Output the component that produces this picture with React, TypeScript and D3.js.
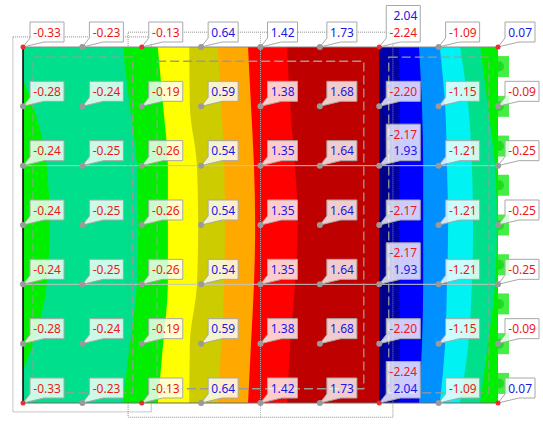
import React from "react";
import * as d3 from "d3";

const W = 543;
const H = 425;

// node grid: 9 columns x 7 rows
const columns = [0, 1, 2, 3, 4, 5, 6, 7, 8];
const rows = [0, 1, 2, 3, 4, 5, 6];

// values at nodes (row by row, top to bottom)
const row0 = [-0.33, -0.23, -0.13, 0.64, 1.42, 1.73, -2.24, -1.09, 0.07];
const row1 = [-0.28, -0.24, -0.19, 0.59, 1.38, 1.68, -2.2, -1.15, -0.09];
const row2 = [-0.24, -0.25, -0.26, 0.54, 1.35, 1.64, -2.17, -1.21, -0.25];
const row3 = [-0.24, -0.25, -0.26, 0.54, 1.35, 1.64, -2.17, -1.21, -0.25];
const row4 = [-0.24, -0.25, -0.26, 0.54, 1.35, 1.64, -2.17, -1.21, -0.25];
const row5 = [-0.28, -0.24, -0.19, 0.59, 1.38, 1.68, -2.2, -1.15, -0.09];
const row6 = [-0.33, -0.23, -0.13, 0.64, 1.42, 1.73, -2.24, -1.09, 0.07];
const nodeValues = [row0, row1, row2, row3, row4, row5, row6];

// second value at the discontinuity column
const jumpColumn = 6;
const jumpValues: (number | null)[] = [2.04, null, 1.93, null, 1.93, null, 2.04];
const jumpFirst = [true, false, false, false, false, false, false];

// nodes drawn with red markers
const markedRows = [0, 6];
const markedCols = [0, 2, 6, 8];

// contour band edges (in column units) per node row, left to right
const edgeLens = [-0.25, 0.17, 0.4, 0.45, 0.4, 0.17, -0.25];
const edgeTealGreen = [1.68, 1.8, 1.92, 1.94, 1.92, 1.8, 1.68];
const edgeGreenYellow = [2.27, 2.36, 2.44, 2.44, 2.44, 2.36, 2.27];
const edgeYellowOlive = [2.8, 2.81, 2.93, 2.95, 2.93, 2.81, 2.8];
const edgeOliveOrange = [3.28, 3.34, 3.39, 3.4, 3.39, 3.34, 3.28];
const edgeOrangeRed = [3.79, 3.84, 3.89, 3.91, 3.89, 3.84, 3.79];
const edgeRedDark = [4.45, 4.5, 4.58, 4.63, 4.58, 4.5, 4.45];
const edgeJump = [6, 6, 6, 6, 6, 6, 6];
const edgeNavy = [6.01, 6.08, 6.15, 6.15, 6.15, 6.08, 6.01];
const edgeNavyBlue = [6.33, 6.35, 6.34, 6.34, 6.34, 6.35, 6.33];
const edgeBlueLight = [6.67, 6.72, 6.74, 6.74, 6.74, 6.72, 6.67];
const edgeLightCyan = [7.02, 7.11, 7.14, 7.16, 7.14, 7.11, 7.02];
const edgeCyanTeal = [7.36, 7.5, 7.56, 7.58, 7.56, 7.5, 7.36];
const edgeTealGreenR = [7.7, 7.83, 7.95, 7.98, 7.95, 7.83, 7.7];
const bandEdges = [
  edgeLens, edgeTealGreen, edgeGreenYellow, edgeYellowOlive, edgeOliveOrange,
  edgeOrangeRed, edgeRedDark, edgeJump, edgeNavy, edgeNavyBlue, edgeBlueLight,
  edgeLightCyan, edgeCyanTeal, edgeTealGreenR,
];
const bandColors = [
  "#00EE00", "#00E08C", "#00EE00", "#FFFF00", "#CCCC00", "#FFA800", "#FF0000",
  "#BE0000", "#000088", "#0000A8", "#0000FF", "#0090FF", "#00F2F2", "#00E08C", "#00EE00",
];

// support blocks along the right edge (row units)
const supportRows = [0.33, 1, 1.67, 2.33, 3, 3.67, 4.33, 5, 5.67];

// frames (column / row units)
const dashedFrames = [
  { c0: 0.17, c1: 1.85, r0: 0.17, r1: 5.83 },
  { c0: 2.26, c1: 5.74, r0: 0.24, r1: 5.76 },
  { c0: 6.16, c1: 7.85, r0: 0.17, r1: 5.83 },
];
const dottedFrames = [
  { c0: -0.17, c1: 2.16, r0: -0.17, r1: 6.15 },
  { c0: 1.77, c1: 6.23, r0: -0.25, r1: 6.24 },
];
const dividerColumn = 4;
const meshRows = [2, 4];

const x = d3.scaleLinear().domain([0, 8]).range([23, 498]);
const y = d3.scaleLinear().domain([0, 6]).range([47, 403]);

const FONT = 12;
const LINE_GAP = 16.5;
function textWidth(s: string) {
  let w = 0;
  for (const ch of s) {
    if (ch === ".") w += 0.266;
    else if (ch === "-") w += 0.322;
    else w += 0.572;
  }
  return w * FONT;
}
const fmt = (v: number) => v.toFixed(2);

export default function App() {
  const line = d3
    .line<[number, number]>()
    .x((d) => d[0])
    .y((d) => d[1])
    .curve(d3.curveMonotoneY);

  const bands = bandColors.map((color, i) => {
    const leftEdge = i === 0 ? rows.map(() => -1) : bandEdges[i - 1];
    const left: [number, number][] = rows.map((r) => [x(leftEdge[r]), y(r)]);
    const right: [number, number][] = rows.map((r) => [x(9), y(r)]).reverse() as [number, number][];
    const d = (line(left) as string) + "L" + (line(right) as string).substring(1) + "Z";
    return { color, d };
  });

  const labels: { px: number; py: number; vals: number[] }[] = [];
  rows.forEach((r) => {
    columns.forEach((c) => {
      const v = nodeValues[r][c];
      let vals = [v];
      const jv = c === jumpColumn ? jumpValues[r] : null;
      if (jv !== null && jv !== undefined) vals = jumpFirst[r] ? [jv, v] : [v, jv];
      labels.push({ px: x(c), py: y(r), vals });
    });
  });

  return (
    <div style={{ position: "fixed", left: 0, top: 0, width: W, height: H, background: "#fff" }}>
      <svg width={W} height={H} style={{ display: "block" }}>
        <defs>
          <clipPath id="plate">
            <rect x={x(0)} y={y(0)} width={x(8) - x(0)} height={y(6) - y(0)} />
          </clipPath>
        </defs>
        {/* supports */}
        {supportRows.map((r, i) => (
          <g key={"s" + i}>
            <rect x={x(8)} y={y(r) - 10.5} width={11} height={21} fill="#44EE44" />
            <circle cx={x(8) + 1} cy={y(r)} r={5} fill="#1EDD1E" />
          </g>
        ))}
        {/* contour bands */}
        <g clipPath="url(#plate)">
          {bands.map((b, i) => (
            <path key={"b" + i} d={b.d} fill={b.color} />
          ))}
        </g>
        {/* plate border */}
        <line x1={x(0)} x2={x(8)} y1={y(0)} y2={y(0)} stroke="#8a8a8a" strokeWidth={1} />
        <line x1={x(0)} x2={x(8)} y1={y(6)} y2={y(6)} stroke="#6a6a6a" strokeWidth={1.2} />
        <line x1={x(0)} x2={x(0)} y1={y(0)} y2={y(6)} stroke="#000" strokeWidth={1.5} />
        {/* mesh lines */}
        {meshRows.map((r) => (
          <line key={"m" + r} x1={x(0)} x2={x(8)} y1={y(r)} y2={y(r)} stroke="#c4c4c4" strokeWidth={1} />
        ))}
        {/* dotted frames */}
        {dottedFrames.map((f, i) => (
          <rect
            key={"df" + i}
            x={x(f.c0)}
            y={y(f.r0)}
            width={x(f.c1) - x(f.c0)}
            height={y(f.r1) - y(f.r0)}
            fill="none"
            stroke="#8c8c8c"
            strokeWidth={1}
            strokeDasharray="1,1"
          />
        ))}
        <line
          x1={x(dividerColumn)}
          x2={x(dividerColumn)}
          y1={y(dottedFrames[1].r0)}
          y2={y(dottedFrames[1].r1)}
          stroke="#b0b0b0"
          strokeWidth={1}
          strokeDasharray="1,1"
        />
        {/* dashed frames */}
        {dashedFrames.map((f, i) => (
          <rect
            key={"da" + i}
            x={x(f.c0)}
            y={y(f.r0)}
            width={x(f.c1) - x(f.c0)}
            height={y(f.r1) - y(f.r0)}
            fill="none"
            stroke="#9a9a9a"
            strokeWidth={1.3}
            strokeDasharray="9,4"
          />
        ))}
        {/* labels */}
        {labels.map((l, i) => {
          const tw = Math.max(...l.vals.map((v) => textWidth(fmt(v))));
          const w = Math.round(tw + 6);
          const h = l.vals.length === 1 ? 20 : 20 + LINE_GAP;
          const bx = l.px + 7;
          const by = l.py - 5 - h;
          const d = `M${bx},${by}H${bx + w}V${by + h}H${bx + 14}L${l.px},${l.py}L${bx},${by + h - 4}Z`;
          return (
            <g key={"l" + i}>
              <path d={d} fill="#fff" fillOpacity={0.8} stroke="#a8a8a8" strokeWidth={1} />
              {l.vals.map((v, k) => (
                <text
                  key={k}
                  x={bx + w - 3}
                  y={by + h - 5.5 - (l.vals.length - 1 - k) * LINE_GAP}
                  textAnchor="end"
                  fontFamily="'Noto Sans', sans-serif"
                  fontSize={FONT}
                  fill={v < 0 ? "#f01818" : "#1818e8"}
                >
                  {fmt(v)}
                </text>
              ))}
            </g>
          );
        })}
        {/* node markers */}
        {rows.map((r) =>
          columns.map((c) => {
            const marked = markedRows.includes(r) && markedCols.includes(c);
            return (
              <circle
                key={`n${r}-${c}`}
                cx={x(c)}
                cy={y(r)}
                r={marked ? 2.5 : 3}
                fill={marked ? "#e83030" : "#9a9a9a"}
              />
            );
          })
        )}
      </svg>
    </div>
  );
}
